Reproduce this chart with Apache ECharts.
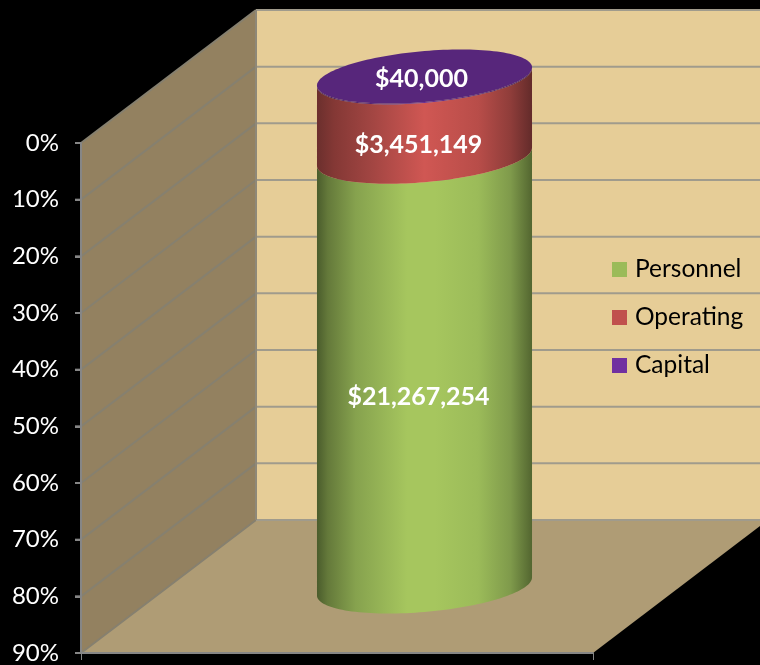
<!DOCTYPE html>
<html>
<head>
<meta charset="utf-8">
<style>html,body{margin:0;padding:0;background:#000}#c{width:760px;height:665px}</style>
<script src="https://cdn.jsdelivr.net/npm/echarts@6/dist/echarts.min.js"></script>
</head>
<body>
<div id="c"></div>
<script>
const categories = ['Budget'];
const seriesNames = ['Personnel', 'Operating', 'Capital'];
const personnelValues = [75.84];
const operatingValues = [14.0];
const capitalValues = [0.16];
const dollarLabels = ['$21,267,254', '$3,451,149', '$40,000'];
const yTicks = [0, 10, 20, 30, 40, 50, 60, 70, 80, 90];

const DX = 175, DY = -133;
const FONT = 'Lato';

function ellipsePts(cx, cy, rx, ry, k, a0, a1) {
  const pts = [];
  const n = 72;
  for (let i = 0; i <= n; i++) {
    const t = a0 + (a1 - a0) * i / n;
    pts.push([cx + rx * Math.cos(t), cy + ry * Math.sin(t) + k * rx * Math.cos(t)]);
  }
  return pts;
}

function hGrad(stops) {
  return { type: 'linear', x: 0, y: 0, x2: 1, y2: 0, colorStops: stops.map(s => ({ offset: s[0], color: s[1] })) };
}

const gradients = [
  hGrad([[0, '#4a5c2c'], [0.05, '#64793a'], [0.18, '#86a24e'], [0.42, '#a6c65e'], [0.55, '#a6c65e'], [0.75, '#9bbb59'], [0.9, '#7f9a4b'], [1, '#536630']]),
  hGrad([[0, '#6b2f2d'], [0.08, '#843835'], [0.25, '#a14542'], [0.5, '#d05753'], [0.75, '#b84d49'], [0.9, '#8f3d3a'], [1, '#632b2a']]),
  hGrad([[0, '#3c1a56'], [0.5, '#6a2f94'], [1, '#3c1a56']])
];
const topColor = '#57267b';
const labelShiftX = [-6, -6, -3];
const labelShiftY = [25.7, 28.2, 2];

const stackStart = [
  operatingValues[0] + capitalValues[0],
  capitalValues[0],
  0
];
const segValues = [personnelValues[0], operatingValues[0], capitalValues[0]];

function renderWalls(params, api) {
  const p = v => api.coord([0, v]);
  const size = api.size([1, 0])[0];
  const children = [];
  const top = p(yTicks[0]), bot = p(yTicks[yTicks.length - 1]);
  const x0 = top[0] - size / 2, x1 = x0 + size;
  // back wall
  children.push({ type: 'polygon', shape: { points: [[x0 + DX, top[1] + DY], [x1 + DX, top[1] + DY], [x1 + DX, bot[1] + DY], [x0 + DX, bot[1] + DY]] }, style: { fill: '#e6cd97' } });
  // left wall
  children.push({ type: 'polygon', shape: { points: [[x0, top[1]], [x0 + DX, top[1] + DY], [x0 + DX, bot[1] + DY], [x0, bot[1]]] }, style: { fill: '#938160' } });
  // floor
  children.push({ type: 'polygon', shape: { points: [[x0, bot[1]], [x1, bot[1]], [x1 + DX, bot[1] + DY], [x0 + DX, bot[1] + DY]] }, style: { fill: '#af9c75' } });
  yTicks.forEach((v, i) => {
    const y = p(v)[1];
    children.push({ type: 'line', shape: { x1: x0, y1: y, x2: x0 + DX, y2: y + DY }, style: { stroke: '#86806f', lineWidth: 2 } });
    children.push({ type: 'line', shape: { x1: x0 + DX, y1: y + DY, x2: x1 + DX, y2: y + DY }, style: { stroke: '#a09b8c', lineWidth: 2 } });
    // outward tick on the front edge of the left wall
    children.push({ type: 'line', shape: { x1: x0 - 6, y1: y, x2: x0, y2: y }, style: { stroke: '#868686', lineWidth: 2 } });
  });
  children.push({ type: 'line', shape: { x1: x0 + DX, y1: top[1] + DY, x2: x0 + DX, y2: bot[1] + DY }, style: { stroke: '#8e8878', lineWidth: 2 } });
  return { type: 'group', children };
}

function makeCylinderRender(idx) {
  return function (params, api) {
    const v0 = api.value(1), v1 = v0 + api.value(2);
    const a = api.coord([0, v0]), b = api.coord([0, v1]);
    const size = api.size([1, 0])[0];
    const cx = a[0] + DX / 2, rx = size * 0.21, ry = 25.5, k = -0.084;
    const yTop = a[1] + DY / 2, yBot = b[1] + DY / 2;
    const back = ellipsePts(cx, yTop, rx, ry, k, Math.PI, 2 * Math.PI);
    const front = ellipsePts(cx, yTop, rx, ry, k, 0, Math.PI);
    const lower = ellipsePts(cx, yBot, rx, ry, k, Math.PI, 0);
    const children = [{
      type: 'polygon',
      shape: { points: front.concat(lower) },
      style: { fill: gradients[idx] }
    }];
    if (idx === 2) {
      children.push({ type: 'polygon', shape: { points: back.concat(front) }, style: { fill: topColor } });
    }
    children.push({
      type: 'text',
      style: {
        text: dollarLabels[idx],
        x: cx + labelShiftX[idx], y: (yTop + yBot) / 2 + labelShiftY[idx],
        fill: '#fff', fontFamily: FONT, fontWeight: 'bold', fontSize: 25,
        align: 'center', verticalAlign: 'middle'
      },
      z2: 10
    });
    return { type: 'group', children };
  };
}

const legendColors = ['#9bbb59', '#c0504d', '#7030a0'];

const option = {
  backgroundColor: '#000',
  animation: false,
  grid: { left: 81, top: 143, width: 512, height: 510 },
  legend: {
    data: seriesNames,
    orient: 'vertical',
    left: 607,
    top: 250,
    itemWidth: 15,
    itemHeight: 15,
    itemGap: 19,
    selectedMode: false,
    icon: 'rect',
    textStyle: { color: '#000', fontFamily: FONT, fontSize: 24.5, lineHeight: 29, padding: [0, 0, 0, 3] }
  },
  xAxis: {
    type: 'category',
    data: categories,
    position: 'bottom',
    z: 10,
    axisLine: { onZero: false, lineStyle: { color: '#868686', width: 2 } },
    axisTick: { show: true, length: 7, lineStyle: { color: '#868686', width: 1 } },
    axisLabel: { show: false },
    splitLine: { show: false }
  },
  yAxis: {
    type: 'value',
    inverse: true,
    position: 'left',
    z: 10,
    min: yTicks[0],
    max: yTicks[yTicks.length - 1],
    interval: 10,
    axisLine: { show: true, onZero: false, lineStyle: { color: '#868686', width: 2 } },
    axisTick: { show: true, length: 6, lineStyle: { color: '#868686', width: 2 } },
    axisLabel: { color: '#fff', fontFamily: FONT, fontSize: 24, margin: 22, formatter: '{value}%' },
    splitLine: { show: false }
  },
  series: [
    { type: 'custom', name: 'walls', silent: true, z: 1, clip: false, renderItem: renderWalls, data: [[0]], encode: { x: 0 } }
  ].concat(seriesNames.map((name, i) => ({
    type: 'custom',
    name,
    z: 2 + i,
    clip: false,
    silent: true,
    itemStyle: { color: legendColors[i] },
    renderItem: makeCylinderRender(i),
    encode: { x: 0, y: [1, 2] },
    data: [[0, stackStart[i], segValues[i]]]
  })))
};

echarts.init(document.getElementById('c'), null, { renderer: 'canvas' }).setOption(option);
</script>
</body>
</html>
